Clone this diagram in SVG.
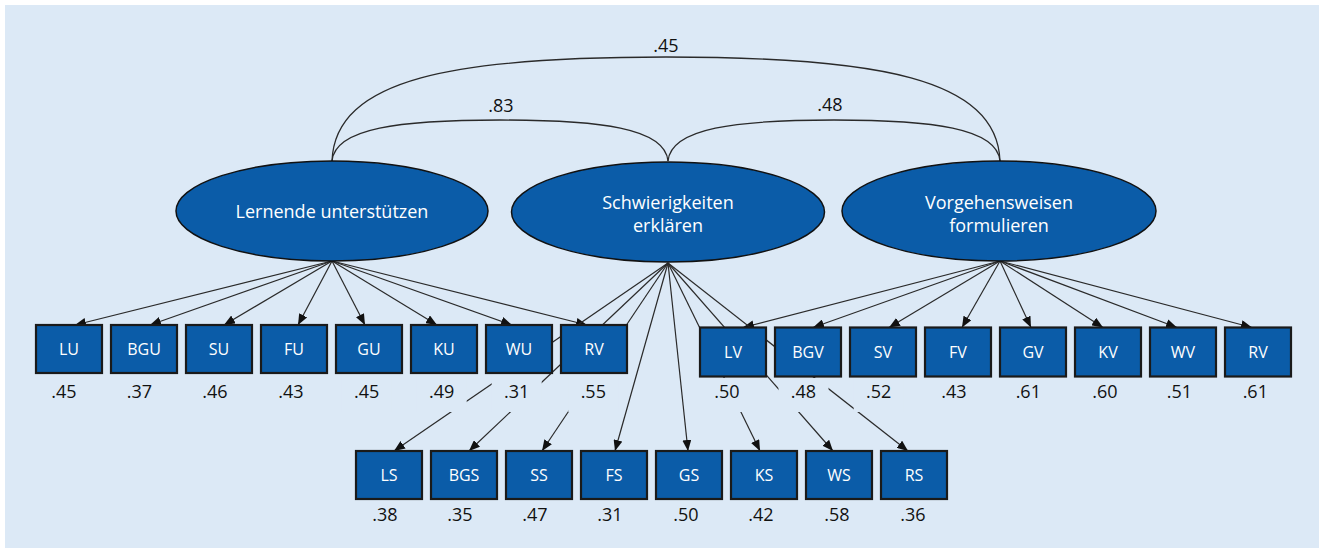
<svg xmlns="http://www.w3.org/2000/svg" width="1319" height="548" viewBox="0 0 1319 548">
<defs>
<marker id="ah" markerUnits="userSpaceOnUse" markerWidth="11" markerHeight="9" viewBox="0 0 11 9" refX="11" refY="4.5" orient="auto">
<path d="M0,0 L11,4.5 L0,9 z" fill="#111"/>
</marker>
<style>
.bg{fill:#dce9f6}
.halo{fill:#dce9f6}
.lat{fill:#0b5ca8;stroke:#111;stroke-width:1.5}
.box{fill:#0b5ca8;stroke:#1a1a1a;stroke-width:2.2}
.lt{font-family:"Open Sans","Liberation Sans",sans-serif;font-size:18px;fill:#fff;text-anchor:middle}
.bt{font-family:"Open Sans","Liberation Sans",sans-serif;font-size:16px;fill:#fff;text-anchor:middle}
.vt{font-family:"Open Sans","Liberation Sans",sans-serif;font-size:18px;fill:#111;text-anchor:middle}
.arc{fill:none;stroke:#2a2a2a;stroke-width:1.3}
.ln{stroke:#2a2a2a;stroke-width:1.2;fill:none;marker-end:url(#ah)}
</style>
</defs>
<rect class="bg" x="5" y="5" width="1314" height="543"/>

<g id="correlations">
<path class="arc" d="M332,161 C335,78 455,57 666,57 C877,57 997,78 1000,161"/>
<path class="arc" d="M332,161 C335,128 400,120 500,120 C600,120 665,128 668,161"/>
<path class="arc" d="M668,161 C671,128 736,120 834,120 C932,120 997,128 1000,161"/>
<text class="vt" x="666" y="52">.45</text>
<text class="vt" x="501" y="112">.83</text>
<text class="vt" x="830" y="111">.48</text>
</g>

<g id="connectors">
<line class="ln" x1="332" y1="261" x2="75" y2="325"/>
<line class="ln" x1="332" y1="261" x2="150" y2="325"/>
<line class="ln" x1="332" y1="261" x2="224" y2="325"/>
<line class="ln" x1="332" y1="261" x2="298" y2="325"/>
<line class="ln" x1="332" y1="261" x2="365" y2="325"/>
<line class="ln" x1="332" y1="261" x2="437" y2="325"/>
<line class="ln" x1="332" y1="261" x2="512" y2="325"/>
<line class="ln" x1="332" y1="261" x2="587" y2="325"/>
<line class="ln" x1="1000" y1="261" x2="743" y2="327.5"/>
<line class="ln" x1="1000" y1="261" x2="813" y2="327.5"/>
<line class="ln" x1="1000" y1="261" x2="889" y2="327.5"/>
<line class="ln" x1="1000" y1="261" x2="962" y2="327.5"/>
<line class="ln" x1="1000" y1="261" x2="1031" y2="327.5"/>
<line class="ln" x1="1000" y1="261" x2="1103" y2="327.5"/>
<line class="ln" x1="1000" y1="261" x2="1177" y2="327.5"/>
<line class="ln" x1="1000" y1="261" x2="1252" y2="327.5"/>
<line class="ln" x1="668" y1="263" x2="394" y2="451"/>
<line class="ln" x1="668" y1="263" x2="469" y2="451"/>
<line class="ln" x1="668" y1="263" x2="542" y2="451"/>
<line class="ln" x1="668" y1="263" x2="615" y2="451"/>
<line class="ln" x1="668" y1="263" x2="688" y2="451"/>
<line class="ln" x1="668" y1="263" x2="760" y2="451"/>
<line class="ln" x1="668" y1="263" x2="833" y2="451"/>
<line class="ln" x1="668" y1="263" x2="908" y2="451"/>
</g>

<g id="lernende"><ellipse class="lat" cx="332" cy="211" rx="156" ry="50"/><text class="lt" x="332" y="218">Lernende unterstützen</text></g>
<g id="schwierigkeiten"><ellipse class="lat" cx="668" cy="212" rx="156.5" ry="50"/><text class="lt" x="668" y="209">Schwierigkeiten</text><text class="lt" x="668" y="232">erklären</text></g>
<g id="vorgehensweisen"><ellipse class="lat" cx="999" cy="211" rx="157" ry="50"/><text class="lt" x="999" y="209">Vorgehensweisen</text><text class="lt" x="999" y="232">formulieren</text></g>

<g id="LU"><rect class="halo" x="39" y="374" width="50" height="38"/><rect class="box" x="36" y="325" width="66" height="48"/><text class="bt" x="69" y="355">LU</text><text class="vt" x="64" y="398">.45</text></g>
<g id="BGU"><rect class="halo" x="114.5" y="374" width="50" height="38"/><rect class="box" x="111" y="325" width="66" height="48"/><text class="bt" x="144" y="355">BGU</text><text class="vt" x="139.5" y="398">.37</text></g>
<g id="SU"><rect class="halo" x="190" y="374" width="50" height="38"/><rect class="box" x="186" y="325" width="66" height="48"/><text class="bt" x="219" y="355">SU</text><text class="vt" x="215" y="398">.46</text></g>
<g id="FU"><rect class="halo" x="266" y="374" width="50" height="38"/><rect class="box" x="261" y="325" width="66" height="48"/><text class="bt" x="294" y="355">FU</text><text class="vt" x="291" y="398">.43</text></g>
<g id="GU"><rect class="halo" x="341.7" y="374" width="50" height="38"/><rect class="box" x="336" y="325" width="66" height="48"/><text class="bt" x="369" y="355">GU</text><text class="vt" x="366.7" y="398">.45</text></g>
<g id="KU"><rect class="halo" x="416.7" y="374" width="50" height="38"/><rect class="box" x="411" y="325" width="66" height="48"/><text class="bt" x="444" y="355">KU</text><text class="vt" x="441.7" y="398">.49</text></g>
<g id="WU"><rect class="halo" x="491.7" y="374" width="50" height="38"/><rect class="box" x="486" y="325" width="66" height="48"/><text class="bt" x="519" y="355">WU</text><text class="vt" x="516.7" y="398">.31</text></g>
<g id="RV1"><rect class="halo" x="568.3" y="374" width="50" height="38"/><rect class="box" x="561" y="325" width="66" height="48"/><text class="bt" x="594" y="355">RV</text><text class="vt" x="593.3" y="398">.55</text></g>

<g id="LV"><rect class="halo" x="702" y="378" width="50" height="34"/><rect class="box" x="700" y="327.5" width="66" height="49"/><text class="bt" x="733" y="358">LV</text><text class="vt" x="727" y="398">.50</text></g>
<g id="BGV"><rect class="halo" x="778.5" y="378" width="50" height="34"/><rect class="box" x="775" y="327.5" width="66" height="49"/><text class="bt" x="808" y="358">BGV</text><text class="vt" x="803.5" y="398">.48</text></g>
<g id="SV"><rect class="halo" x="853.7" y="378" width="50" height="34"/><rect class="box" x="850" y="327.5" width="66" height="49"/><text class="bt" x="883" y="358">SV</text><text class="vt" x="878.7" y="398">.52</text></g>
<g id="FV"><rect class="box" x="925" y="327.5" width="66" height="49"/><text class="bt" x="958" y="358">FV</text><text class="vt" x="954" y="398">.43</text></g>
<g id="GV"><rect class="box" x="1000" y="327.5" width="66" height="49"/><text class="bt" x="1033" y="358">GV</text><text class="vt" x="1028.3" y="398">.61</text></g>
<g id="KV"><rect class="box" x="1075" y="327.5" width="66" height="49"/><text class="bt" x="1108" y="358">KV</text><text class="vt" x="1105" y="398">.60</text></g>
<g id="WV"><rect class="box" x="1150" y="327.5" width="66" height="49"/><text class="bt" x="1183" y="358">WV</text><text class="vt" x="1179.5" y="398">.51</text></g>
<g id="RV2"><rect class="box" x="1225" y="327.5" width="66" height="49"/><text class="bt" x="1258" y="358">RV</text><text class="vt" x="1255.3" y="398">.61</text></g>

<g id="LS"><rect class="box" x="356" y="451" width="66" height="48"/><text class="bt" x="389" y="481">LS</text><text class="vt" x="385" y="521">.38</text></g>
<g id="BGS"><rect class="box" x="431" y="451" width="66" height="48"/><text class="bt" x="464" y="481">BGS</text><text class="vt" x="460" y="521">.35</text></g>
<g id="SS"><rect class="box" x="506" y="451" width="66" height="48"/><text class="bt" x="539" y="481">SS</text><text class="vt" x="535" y="521">.47</text></g>
<g id="FS"><rect class="box" x="581" y="451" width="66" height="48"/><text class="bt" x="614" y="481">FS</text><text class="vt" x="610" y="521">.31</text></g>
<g id="GS"><rect class="box" x="656" y="451" width="66" height="48"/><text class="bt" x="689" y="481">GS</text><text class="vt" x="686" y="521">.50</text></g>
<g id="KS"><rect class="box" x="731" y="451" width="66" height="48"/><text class="bt" x="764" y="481">KS</text><text class="vt" x="761" y="521">.42</text></g>
<g id="WS"><rect class="box" x="806" y="451" width="66" height="48"/><text class="bt" x="839" y="481">WS</text><text class="vt" x="837" y="521">.58</text></g>
<g id="RS"><rect class="box" x="881" y="451" width="66" height="48"/><text class="bt" x="914" y="481">RS</text><text class="vt" x="913" y="521">.36</text></g>
</svg>
